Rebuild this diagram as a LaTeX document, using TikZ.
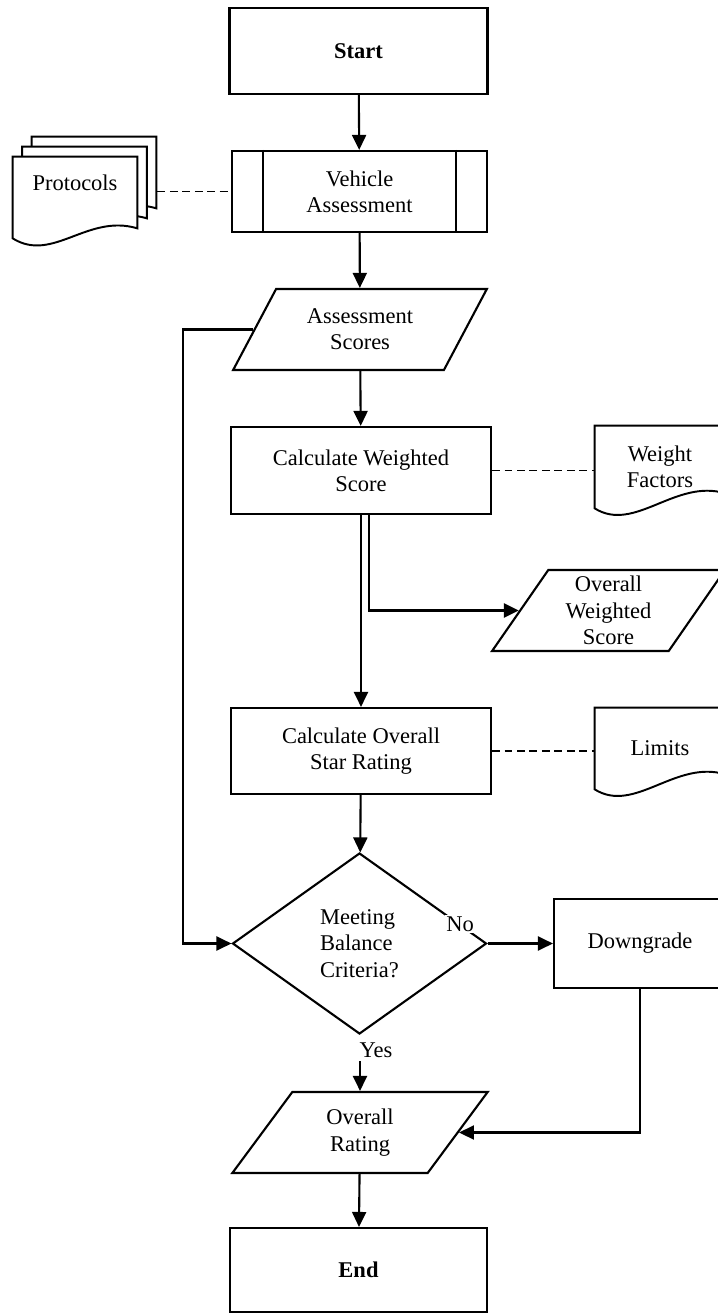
\documentclass[tikz,border=0pt]{standalone}
\usepackage{fontspec}
\setmainfont{Liberation Serif}
\usetikzlibrary{shapes.geometric,arrows.meta,backgrounds}

\tikzset{
  box/.style={draw, line width=1.2pt, minimum width=5.2cm, minimum height=1.72cm, align=center, inner sep=2pt},
  io/.style={draw, trapezium, trapezium left angle=58, trapezium right angle=122,
    trapezium stretches=true, line width=1.2pt, minimum width=5.12cm, minimum height=1.62cm,
    align=center, inner sep=1pt},
  decision/.style={draw, diamond, line width=1.2pt, minimum width=5.08cm, minimum height=3.62cm,
    align=left, inner sep=0pt},
  docnode/.style={minimum width=2.6cm, minimum height=1.62cm, align=center, inner sep=1pt},
  docline/.style={line width=1.1pt, fill=white},
  arr/.style={line width=1.2pt, -{Triangle[length=0.3cm, width=0.28cm]}},
  dashline/.style={line width=1pt, dash pattern=on 4.5pt off 2.6pt},
}

\begin{document}
\begin{tikzpicture}[font=\fontsize{12.8}{15}\selectfont]
		\useasboundingbox (0,0) rectangle (14.36,-26.28);
		\clip (0,0) rectangle (14.36,-26.28);
		% main column
		\node[box, minimum width=5.16cm] (start) at (7.17,-1.02) {\textbf{Start}};
		\node[box, minimum width=5.1cm, minimum height=1.62cm] (assess) at (7.19,-3.83) {Vehicle\\Assessment};
		\node[io] (scores) at (7.2,-6.59) {Assessment\\Scores};
		\node[box, minimum height=1.74cm] (calcw) at (7.22,-9.41) {Calculate Weighted\\Score};
		\node[io, minimum width=4.7cm, trapezium left angle=60, trapezium right angle=120] (ows) at (12.17,-12.21) {Overall\\Weighted\\Score};
		\node[box] (calco) at (7.22,-15.02) {Calculate Overall\\Star Rating};
		\node[decision] (dec) at (7.19,-18.87) {Meeting\\Balance\\Criteria?};
		\node[box, minimum width=3.44cm, minimum height=1.78cm] (down) at (12.8,-18.87) {Downgrade};
		\node[io] (rating) at (7.2,-22.65) {Overall\\Rating};
		\node[box, minimum width=5.14cm, minimum height=1.68cm] (end) at (7.17,-25.4) {\textbf{End}};
		% documents
		\node[docnode, minimum width=2.48cm, text depth=0.6cm] (protocols) at (1.5,-3.95) {Protocols};
		\node[docnode, minimum height=1.64cm] (weights) at (13.2,-9.34) {Weight\\Factors};
		\node[docnode] (limits) at (13.2,-14.97) {Limits};
		\node[fill=white, inner sep=1pt] (no) at (9.2,-18.48) {No};
		\node[inner sep=2pt] (yes) at (7.52,-21.0) {Yes};
		\coordinate (stack) at ([xshift=0.4cm]protocols.east);
		\begin{scope}[on background layer]
			\foreach \s in {2,1,0}
				\draw[docline, transform canvas={shift={(\s*0.19,\s*0.2)}}] (protocols.north west) -- (protocols.north east)
				-- ([yshift=0.2cm]protocols.south east) .. controls +(-1.0,0.3) and +(0.8,-0.5) .. (protocols.south west) -- cycle;
			\foreach \d in {weights,limits}
				\draw[docline] (\d.north west) -- (\d.north east)
				-- ([yshift=0.3cm]\d.south east) .. controls +(-1.0,0.3) and +(0.8,-0.5) .. (\d.south west) -- cycle;
		\end{scope}
		\draw[line width=1.2pt] ([xshift=0.64cm]assess.north west) -- ([xshift=0.64cm]assess.south west);
		\draw[line width=1.2pt] ([xshift=-0.64cm]assess.north east) -- ([xshift=-0.64cm]assess.south east);
		% connectors
		\draw[arr] (start) -- (assess);
		\draw[arr] (assess) -- (scores);
		\draw[arr] (scores) -- (calcw);
		\draw[arr] (calcw) -- (calco);
		\draw[arr, line width=1.6pt] ([xshift=0.16cm]calcw.south) |- (ows.west);
		\draw[arr] (calco) -- (dec);
		\draw[arr] (scores.west) -- ++(-1.4,0) |- (dec.west);
		\draw[arr] (dec.east) -- (down.west);
		\draw[arr] (yes.south -| rating.north) -- (rating.north);
		\draw[arr] (down.south) |- (rating.east);
		\draw[arr] (rating) -- (end);
		\draw[dashline] (stack |- assess.west) -- (assess.west);
		\draw[dashline] (calcw.east) -- (calcw.east -| weights.west);
		\draw[dashline] (calco.east) -- (calco.east -| limits.west);
	\end{tikzpicture}
\end{document}
